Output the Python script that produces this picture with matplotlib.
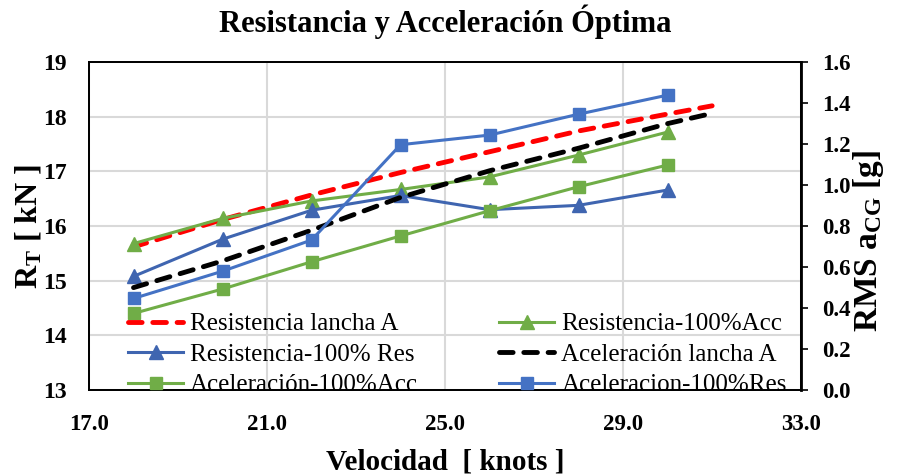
import numpy as np
import matplotlib
matplotlib.use('Agg')
import matplotlib.pyplot as plt

plt.rcParams['font.family'] = ['Liberation Serif', 'DejaVu Serif']
plt.rcParams['font.weight'] = 'bold'
plt.rcParams['mathtext.fontset'] = 'custom'
plt.rcParams['mathtext.rm'] = 'Liberation Serif:bold'
plt.rcParams['mathtext.it'] = 'Liberation Serif:bold'
plt.rcParams['mathtext.bf'] = 'Liberation Serif:bold'

# velocidades [knots]
vel = [18, 20, 22, 24, 26, 28, 30]
vel_tend = [18, 20, 22, 24, 26, 28, 30, 31]

# resistencia [kN] (eje izquierdo)
res_lancha_a = [15.62, 16.12, 16.57, 16.98, 17.36, 17.74, 18.05, 18.20]
res_100acc = [15.68, 16.14, 16.46, 16.67, 16.90, 17.30, 17.72]
res_100res = [15.08, 15.76, 16.29, 16.56, 16.30, 16.38, 16.66]

# aceleracion RMS [g] (eje derecho)
acc_lancha_a = [0.50, 0.63, 0.78, 0.94, 1.07, 1.18, 1.30, 1.35]
acc_100acc = [0.374, 0.493, 0.626, 0.752, 0.875, 0.992, 1.098]
acc_100res = [0.447, 0.580, 0.732, 1.197, 1.244, 1.346, 1.439]

verde = '#70AD47'
azul_osc = '#3F65B0'
azul = '#4472C4'

fig = plt.figure(figsize=(9.13, 4.74), dpi=100)
ax = fig.add_axes([0.0975, 0.177, 0.78, 0.692])
ax2 = ax.twinx()

l1, = ax.plot(vel_tend, res_lancha_a, color='red', lw=3.5, dashes=(2.8, 2.2),
              dash_capstyle='round', label='Resistencia lancha A')
l2, = ax.plot(vel, res_100acc, color=verde, lw=2.2, marker='^', ms=10,
              label='Resistencia-100%Acc')
l3, = ax.plot(vel, res_100res, color=azul_osc, lw=2.2, marker='^', ms=10,
              label='Resistencia-100% Res')
l4, = ax2.plot(vel_tend, acc_lancha_a, color='black', lw=3.5, dashes=(2.8, 2.2),
               dash_capstyle='round', label='Aceleración lancha A')
l5, = ax2.plot(vel, acc_100acc, color=verde, lw=2.2, marker='s', ms=8,
               label='Aceleración-100%Acc')
l6, = ax2.plot(vel, acc_100res, color=azul, lw=2.2, marker='s', ms=8,
               label='Aceleracion-100%Res')

ax.set_xlim(17, 33)
ax.set_ylim(13, 19)
ax2.set_ylim(0, 1.6)
ax.set_xticks(np.arange(17, 33.1, 4))
ax.set_xticklabels(['%.1f' % t for t in np.arange(17, 33.1, 4)])
ax.set_yticks(range(13, 20))
ax2.set_yticks(np.arange(0, 1.61, 0.2))
ax2.set_yticklabels(['%.1f' % t for t in np.arange(0, 1.61, 0.2)])

ax.grid(True, color='#D9D9D9', lw=1.5)
ax.set_axisbelow(True)
ax.tick_params(axis='y', length=0, labelsize=17, pad=16)
ax.tick_params(axis='x', length=0, labelsize=16.5, pad=17)
ax2.tick_params(axis='y', length=5, width=1.2, labelsize=16.5, pad=10)
for s in ax.spines.values():
    s.set_linewidth(1.3)
for s in ax2.spines.values():
    s.set_linewidth(1.3)
ax2.spines['right'].set_linewidth(2)

ax.set_xlabel('Velocidad  [ knots ]', fontsize=21, fontweight='bold', labelpad=10)
ax.set_ylabel('R$_{\\mathrm{T}}$ [ kN ]', fontsize=23, fontweight='bold', labelpad=0)
ax2.set_ylabel('RMS a$_{\\mathrm{CG}}$ [g]', fontsize=24, fontweight='bold')
ax2.yaxis.set_label_coords(1.07, 0.455)
ax.set_title('Resistancia y Acceleración Óptima', fontsize=22, fontweight='bold', pad=22)

handles = [l1, l3, l5, l2, l4, l6]
ax2.legend(handles=handles, labels=[h.get_label() for h in handles], ncol=2,
           loc='lower left', bbox_to_anchor=(0.055, -0.019), frameon=False,
           handlelength=2.2, handletextpad=0.28,
           columnspacing=3.25, labelspacing=0.32, borderpad=0, borderaxespad=0,
           prop={'weight': 'normal', 'size': 18})

fig.savefig('out.png', dpi=100)
